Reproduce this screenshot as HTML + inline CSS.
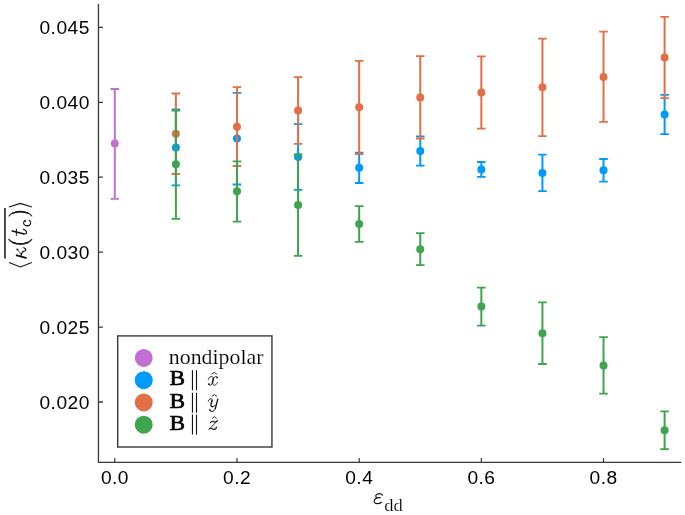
<!DOCTYPE html>
<html><head><meta charset="utf-8"><title>plot</title><style>
html,body{margin:0;padding:0;background:#fff;}
body{width:685px;height:515px;overflow:hidden;}
svg{display:block;will-change:transform;}
.tk{font-family:"Liberation Sans",sans-serif;font-size:19.2px;fill:#000;letter-spacing:0.45px;}
.lg{font-family:"Liberation Serif",serif;font-size:20px;fill:#000;stroke:#fff;stroke-width:0.15px;}
.lgb{font-family:"Liberation Serif",serif;font-size:20px;fill:#000;stroke:#000;stroke-width:0.6px;}
.lgi{font-family:"Liberation Serif",serif;font-style:italic;font-size:20px;fill:#000;}
.xl{font-family:"Liberation Serif",serif;font-style:italic;font-size:24px;fill:#000;}
.xs{font-family:"Liberation Serif",serif;font-size:17.5px;fill:#000;stroke:#fff;stroke-width:0.2px;}
.yl{font-family:"Liberation Serif",serif;font-style:italic;font-size:23px;fill:#000;}
.ylr{font-family:"Liberation Serif",serif;font-size:23px;fill:#000;}
.yls{font-family:"Liberation Serif",serif;font-size:16px;fill:#000;}
</style></head>
<body>
<svg width="685" height="515" viewBox="0 0 685 515">
<rect width="685" height="515" fill="#fff"/>
<path d="M98.45 4V462.3M97.8 462.3H681.3" stroke="#383838" stroke-width="1.3" fill="none"/>
<path d="M98.45 27.30H102.9M98.45 102.30H102.9M98.45 177.20H102.9M98.45 252.20H102.9M98.45 327.10H102.9M98.45 402.00H102.9" stroke="#383838" stroke-width="1.3" fill="none"/>
<path d="M114.80 462.3V458M236.98 462.3V458M359.16 462.3V458M481.34 462.3V458M603.52 462.3V458" stroke="#383838" stroke-width="1.2" fill="none"/>
<text x="89.75" y="33.90" text-anchor="end" class="tk">0.045</text>
<text x="89.75" y="108.90" text-anchor="end" class="tk">0.040</text>
<text x="89.75" y="183.80" text-anchor="end" class="tk">0.035</text>
<text x="89.75" y="258.80" text-anchor="end" class="tk">0.030</text>
<text x="89.75" y="333.70" text-anchor="end" class="tk">0.025</text>
<text x="89.75" y="408.60" text-anchor="end" class="tk">0.020</text>
<text x="114.90" y="484.2" text-anchor="middle" class="tk">0.0</text>
<text x="237.08" y="484.2" text-anchor="middle" class="tk">0.2</text>
<text x="359.26" y="484.2" text-anchor="middle" class="tk">0.4</text>
<text x="481.44" y="484.2" text-anchor="middle" class="tk">0.6</text>
<text x="603.62" y="484.2" text-anchor="middle" class="tk">0.8</text>
<path d="M114.80 89.00V198.80" stroke="#c271d2" stroke-width="2.0" fill="none"/>
<path d="M110.50 89.00H119.10M110.50 198.80H119.10" stroke="#c271d2" stroke-width="1.8" fill="none"/>
<circle cx="114.80" cy="143.60" r="4.0" fill="#c271d2"/>
<path d="M175.89 109.50V185.40M236.98 92.80V184.50M298.07 124.10V189.90M359.16 152.70V183.00M420.25 136.40V165.70M481.34 162.00V176.80M542.43 154.60V191.10M603.52 159.00V181.70M664.61 94.80V134.10" stroke="#009afa" stroke-width="2.0" fill="none"/>
<path d="M171.59 109.50H180.19M171.59 185.40H180.19M232.68 92.80H241.28M232.68 184.50H241.28M293.77 124.10H302.37M293.77 189.90H302.37M354.86 152.70H363.46M354.86 183.00H363.46M415.95 136.40H424.55M415.95 165.70H424.55M477.04 162.00H485.64M477.04 176.80H485.64M538.13 154.60H546.73M538.13 191.10H546.73M599.22 159.00H607.82M599.22 181.70H607.82M660.31 94.80H668.91M660.31 134.10H668.91" stroke="#009afa" stroke-width="1.8" fill="none"/>
<circle cx="175.89" cy="147.50" r="4.0" fill="#009afa"/>
<circle cx="236.98" cy="138.50" r="4.0" fill="#009afa"/>
<circle cx="298.07" cy="157.00" r="4.0" fill="#009afa"/>
<circle cx="359.16" cy="167.80" r="4.0" fill="#009afa"/>
<circle cx="420.25" cy="151.00" r="4.0" fill="#009afa"/>
<circle cx="481.34" cy="169.50" r="4.0" fill="#009afa"/>
<circle cx="542.43" cy="173.00" r="4.0" fill="#009afa"/>
<circle cx="603.52" cy="170.30" r="4.0" fill="#009afa"/>
<circle cx="664.61" cy="114.40" r="4.0" fill="#009afa"/>
<path d="M175.89 93.50V174.00M236.98 87.10V166.00M298.07 77.10V143.80M359.16 60.80V154.00M420.25 56.10V138.50M481.34 56.40V128.70M542.43 38.70V136.20M603.52 31.70V121.90M664.61 16.90V98.20" stroke="#e36f47" stroke-width="2.0" fill="none"/>
<path d="M171.59 93.50H180.19M171.59 174.00H180.19M232.68 87.10H241.28M232.68 166.00H241.28M293.77 77.10H302.37M293.77 143.80H302.37M354.86 60.80H363.46M354.86 154.00H363.46M415.95 56.10H424.55M415.95 138.50H424.55M477.04 56.40H485.64M477.04 128.70H485.64M538.13 38.70H546.73M538.13 136.20H546.73M599.22 31.70H607.82M599.22 121.90H607.82M660.31 16.90H668.91M660.31 98.20H668.91" stroke="#e36f47" stroke-width="1.8" fill="none"/>
<circle cx="175.89" cy="133.70" r="4.0" fill="#e36f47"/>
<circle cx="236.98" cy="126.70" r="4.0" fill="#e36f47"/>
<circle cx="298.07" cy="110.50" r="4.0" fill="#e36f47"/>
<circle cx="359.16" cy="107.20" r="4.0" fill="#e36f47"/>
<circle cx="420.25" cy="97.40" r="4.0" fill="#e36f47"/>
<circle cx="481.34" cy="92.60" r="4.0" fill="#e36f47"/>
<circle cx="542.43" cy="87.20" r="4.0" fill="#e36f47"/>
<circle cx="603.52" cy="76.90" r="4.0" fill="#e36f47"/>
<circle cx="664.61" cy="57.50" r="4.0" fill="#e36f47"/>
<path d="M175.89 110.70V218.80M236.98 161.30V221.70M298.07 154.40V255.90M359.16 206.20V241.90M420.25 233.20V265.10M481.34 287.60V325.70M542.43 302.40V364.00M603.52 337.10V393.70M664.61 411.40V449.20" stroke="#3ea44e" stroke-width="2.0" fill="none"/>
<path d="M171.59 110.70H180.19M171.59 218.80H180.19M232.68 161.30H241.28M232.68 221.70H241.28M293.77 154.40H302.37M293.77 255.90H302.37M354.86 206.20H363.46M354.86 241.90H363.46M415.95 233.20H424.55M415.95 265.10H424.55M477.04 287.60H485.64M477.04 325.70H485.64M538.13 302.40H546.73M538.13 364.00H546.73M599.22 337.10H607.82M599.22 393.70H607.82M660.31 411.40H668.91M660.31 449.20H668.91" stroke="#3ea44e" stroke-width="1.8" fill="none"/>
<circle cx="175.89" cy="164.30" r="4.0" fill="#3ea44e"/>
<circle cx="236.98" cy="191.30" r="4.0" fill="#3ea44e"/>
<circle cx="298.07" cy="205.00" r="4.0" fill="#3ea44e"/>
<circle cx="359.16" cy="224.00" r="4.0" fill="#3ea44e"/>
<circle cx="420.25" cy="249.20" r="4.0" fill="#3ea44e"/>
<circle cx="481.34" cy="306.50" r="4.0" fill="#3ea44e"/>
<circle cx="542.43" cy="333.30" r="4.0" fill="#3ea44e"/>
<circle cx="603.52" cy="365.40" r="4.0" fill="#3ea44e"/>
<circle cx="664.61" cy="430.30" r="4.0" fill="#3ea44e"/>
<rect x="117.7" y="335.9" width="154.25" height="111.1" fill="#fff" stroke="#383838" stroke-width="1.4"/>
<circle cx="143.75" cy="357.95" r="8.95" fill="#c271d2"/>
<circle cx="143.75" cy="380.2" r="8.95" fill="#009afa"/>
<circle cx="143.75" cy="402.45" r="8.95" fill="#e36f47"/>
<circle cx="143.75" cy="424.7" r="8.95" fill="#3ea44e"/>
<text transform="translate(168.8 364.0) scale(1.093 1.075)" class="lg">nondipolar</text>
<text transform="translate(169.51 384.94) scale(1.168 1.0519)" class="lgb">B</text>
<path d="M192.45 370.20V390.20M196.5 370.20V390.20" stroke="#111" stroke-width="1.1"/>
<g fill="none" stroke="#111" stroke-linecap="round" stroke-linejoin="round">
<path d="M208.3 379.4 C208.9 377.5 210.4 376.4 211.8 376.6 C213.0 376.8 213.5 377.7 213.3 378.7" stroke-width="0.95"/>
<path d="M213.3 378.6 L212.45 383.0" stroke-width="1.45"/>
<path d="M212.5 382.8 C212.2 384.3 211.3 385.2 210.1 385.2 C209.4 385.2 208.9 384.9 208.7 384.3" stroke-width="0.95"/>
<path d="M217.2 377.0 C216.5 376.4 215.2 376.4 214.4 377.2 C213.9 377.7 213.6 378.2 213.4 378.7" stroke-width="0.85"/>
<path d="M212.5 383.0 C212.7 384.4 213.4 385.2 214.5 385.2 C215.8 385.2 216.9 384.0 217.4 382.5" stroke-width="0.85"/>
<path d="M211.9 374.0 L214.3 372.4 L216.6 374.0" stroke-width="0.9"/>
<circle cx="208.85" cy="384.1" r="0.95" fill="#111" stroke="none"/>
<circle cx="217.0" cy="377.55" r="0.85" fill="#111" stroke="none"/>
</g>
<text transform="translate(169.51 407.64) scale(1.168 1.0519)" class="lgb">B</text>
<path d="M192.45 392.70V412.70M196.5 392.70V412.70" stroke="#111" stroke-width="1.1"/>
<g fill="none" stroke="#111" stroke-linecap="round" stroke-linejoin="round">
<path d="M208.3 401.2 C208.8 399.6 209.9 398.6 211.0 398.7 C212.0 398.8 212.3 399.7 212.0 400.7" stroke-width="1.0"/>
<path d="M212.0 400.7 L211.2 403.5 C210.8 404.9 210.9 406.6 212.4 406.7" stroke-width="1.35"/>
<path d="M212.4 406.7 C213.6 406.8 214.6 406.0 215.3 405.2" stroke-width="0.95"/>
<path d="M217.8 399.2 L215.3 408.5" stroke-width="1.3"/>
<path d="M215.3 408.5 C214.8 410.3 213.5 411.4 211.9 411.4 C210.9 411.4 210.1 411.0 209.7 410.4" stroke-width="1.0"/>
<path d="M212.1 396.2 L214.3 394.6 L216.7 396.2" stroke-width="0.9"/>
<circle cx="209.95" cy="410.1" r="0.95" fill="#111" stroke="none"/>
</g>
<text transform="translate(169.51 429.74) scale(1.168 1.0519)" class="lgb">B</text>
<path d="M192.45 414.60V434.60M196.5 414.60V434.60" stroke="#111" stroke-width="1.1"/>
<g fill="none" stroke="#111" stroke-linecap="round" stroke-linejoin="round">
<path d="M210.4 422.6 C211.2 421.3 212.2 421.0 213.1 421.4 C214.0 421.8 214.6 422.3 215.4 422.0 C216.2 421.7 216.9 421.2 217.5 420.6" stroke-width="1.15"/>
<path d="M217.5 420.6 L208.9 429.5" stroke-width="0.85"/>
<path d="M209.8 428.4 C210.8 427.9 211.9 428.9 213.2 429.3 C214.5 429.7 215.9 429.0 216.5 427.2" stroke-width="1.15"/>
<path d="M212.4 418.4 L214.3 416.6 L216.3 418.4" stroke-width="0.9"/>
</g>
<path d="M382.5 495.1 C381.2 493.6 378.7 493.4 377.0 494.2 C375.2 495.1 375.3 497.5 377.6 497.9 M376.8 497.85 L380.3 497.6 M377.4 497.9 C374.9 498.1 373.7 500.4 374.3 502.2 C375.0 504.0 378.8 504.3 381.4 502.2" fill="none" stroke="#111" stroke-width="1.15" stroke-linecap="round"/>
<text transform="translate(384.2 510.56) scale(1.0606 0.9796)" class="xs">dd</text>
<g transform="translate(26.1 235) rotate(-90)">
<path d="M-27.6 -17.1 L-32.0 -5.7 L-27.6 5.7" stroke="#111" stroke-width="1.05" fill="none"/>
<path d="M28.0 -17.1 L31.6 -5.7 L28.0 5.7" stroke="#111" stroke-width="1.05" fill="none"/>
<path d="M-23.6 -21.15 H27.1" stroke="#111" stroke-width="1.5" fill="none"/>
<g fill="none" stroke="#111" stroke-linecap="round"><path d="M-20.3 -9.4 L-22.9 -0.2" stroke-width="1.9"/><path d="M-14.6 -8.6 C-16.0 -7.6 -17.6 -6.0 -19.9 -5.0" stroke-width="0.8"/><path d="M-20.2 -4.9 C-17.8 -4.6 -16.4 -3.6 -16.0 -1.6 C-15.6 0.2 -13.8 0.4 -12.7 -2.3" stroke-width="1.2"/><circle cx="-14.5" cy="-8.7" r="0.95" fill="#111" stroke="none"/></g>
<g fill="none" stroke="#111" stroke-linecap="round"><path d="M-4.40 -17.20 C-10.30 -13.00 -10.30 1.50 -4.40 5.70" stroke-width="1.05"/><path d="M-7.44 -13.15 C-9.29 -8.82 -9.29 -2.68 -7.44 1.65" stroke-width="1.6"/></g>
<g fill="none" stroke="#111" stroke-linecap="round"><path d="M4.0 -13.9 L1.3 -2.8" stroke-width="1.6"/><path d="M1.3 -2.8 C0.9 -1.0 1.2 0.5 2.6 0.5 C3.9 0.5 5.0 -0.9 5.8 -2.8" stroke-width="1.15"/><path d="M-0.4 -9.7 H5.8" stroke-width="0.95"/></g>
<g fill="none" stroke="#111" stroke-linecap="round"><path d="M14.4 -1.5 C13.8 -2.2 12.8 -2.5 11.9 -2.5 C10.1 -2.5 9.3 -0.7 9.3 1.2 C9.3 3.3 10.4 4.6 12.2 4.6 C13.5 4.6 14.4 3.9 14.8 2.9" stroke-width="1.05"/><path d="M9.35 -0.2 V2.7" stroke-width="1.3"/><circle cx="13.9" cy="-0.9" r="0.95" fill="#111" stroke="none"/></g>
<g fill="none" stroke="#111" stroke-linecap="round"><path d="M19.00 -17.20 C24.60 -13.00 24.60 1.50 19.00 5.70" stroke-width="1.05"/><path d="M21.88 -13.15 C23.64 -8.82 23.64 -2.68 21.88 1.65" stroke-width="1.6"/></g>
</g>
</svg>
</body></html>
